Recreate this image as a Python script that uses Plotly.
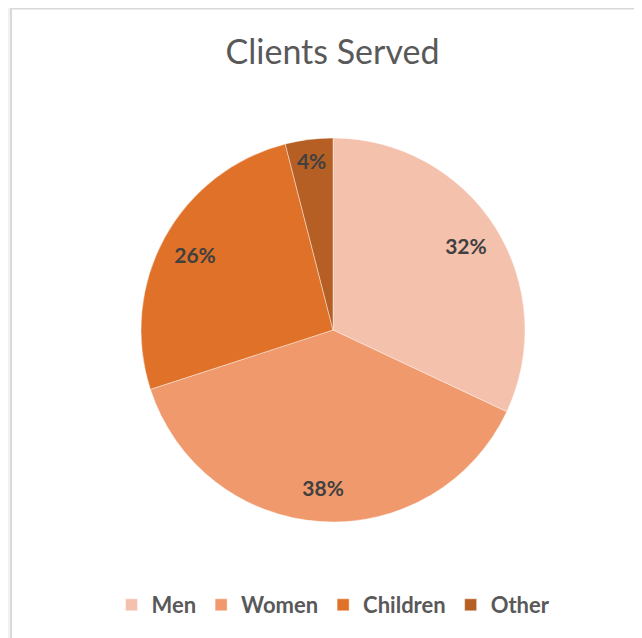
import plotly.graph_objects as go

categories = ["Men", "Women", "Children", "Other"]
values = [32, 38, 26, 4]
colors = ["#F4C1AD", "#F0996C", "#DF7129", "#B65F24"]

# page body has an 8px margin, so the figure is offset by 8px in the window
OFF = 8
W, H = 642 - OFF, 638 - OFF
cx, cy, r = 333 - OFF, 330 - OFF, 192
dom_x = [(cx - r) / W, (cx + r) / W]
dom_y = [1 - (cy + r) / H, 1 - (cy - r) / H]

fig = go.Figure()
fig.add_trace(go.Pie(
    labels=categories, values=values, sort=False, direction="clockwise", rotation=0,
    marker=dict(colors=colors, line=dict(color="rgba(255,255,255,0.6)", width=0.7)),
    textinfo="none", hoverinfo="label+percent", domain=dict(x=dom_x, y=dom_y),
))
# label ring (transparent) to place percentages near the outer part of each slice
fig.add_trace(go.Pie(
    labels=categories, values=values, sort=False, direction="clockwise", rotation=0,
    hole=0.64, showlegend=False, hoverinfo="skip",
    marker=dict(colors=["rgba(0,0,0,0)"] * len(values), line=dict(width=0)),
    textinfo="percent", textposition="inside", insidetextorientation="horizontal",
    texttemplate="%{percent:.0%}",
    textfont=dict(family="Lato", size=21, color="#404040", weight="bold"),
    domain=dict(x=dom_x, y=dom_y),
))

fig.add_shape(type="rect", xref="paper", yref="paper",
              x0=(11 - OFF) / W, x1=1.1, y0=-0.1, y1=1 - (8.5 - OFF) / H,
              fillcolor="white", line=dict(color="#D9D9D9", width=2), layer="below")

fig.update_layout(
    width=W, height=H,
    margin=dict(l=0, r=0, t=0, b=0),
    paper_bgcolor="#F2F2F2",
    title=dict(text="Clients Served", x=(332.5 - OFF) / W, xanchor="center",
               y=1 - (52 - OFF) / H, yanchor="middle",
               font=dict(family="Lato", size=34, color="#595959")),
    legend=dict(orientation="h", x=(333.5 - OFF) / W, xanchor="center",
                y=1 - (605 - OFF) / H, yanchor="middle",
                bgcolor="rgba(0,0,0,0)",
                font=dict(family="Lato", size=22, color="#595959", weight="bold"),
                itemwidth=30, traceorder="normal"),
    uniformtext=dict(minsize=18, mode="show"),
)

fig.write_html("out.html")
